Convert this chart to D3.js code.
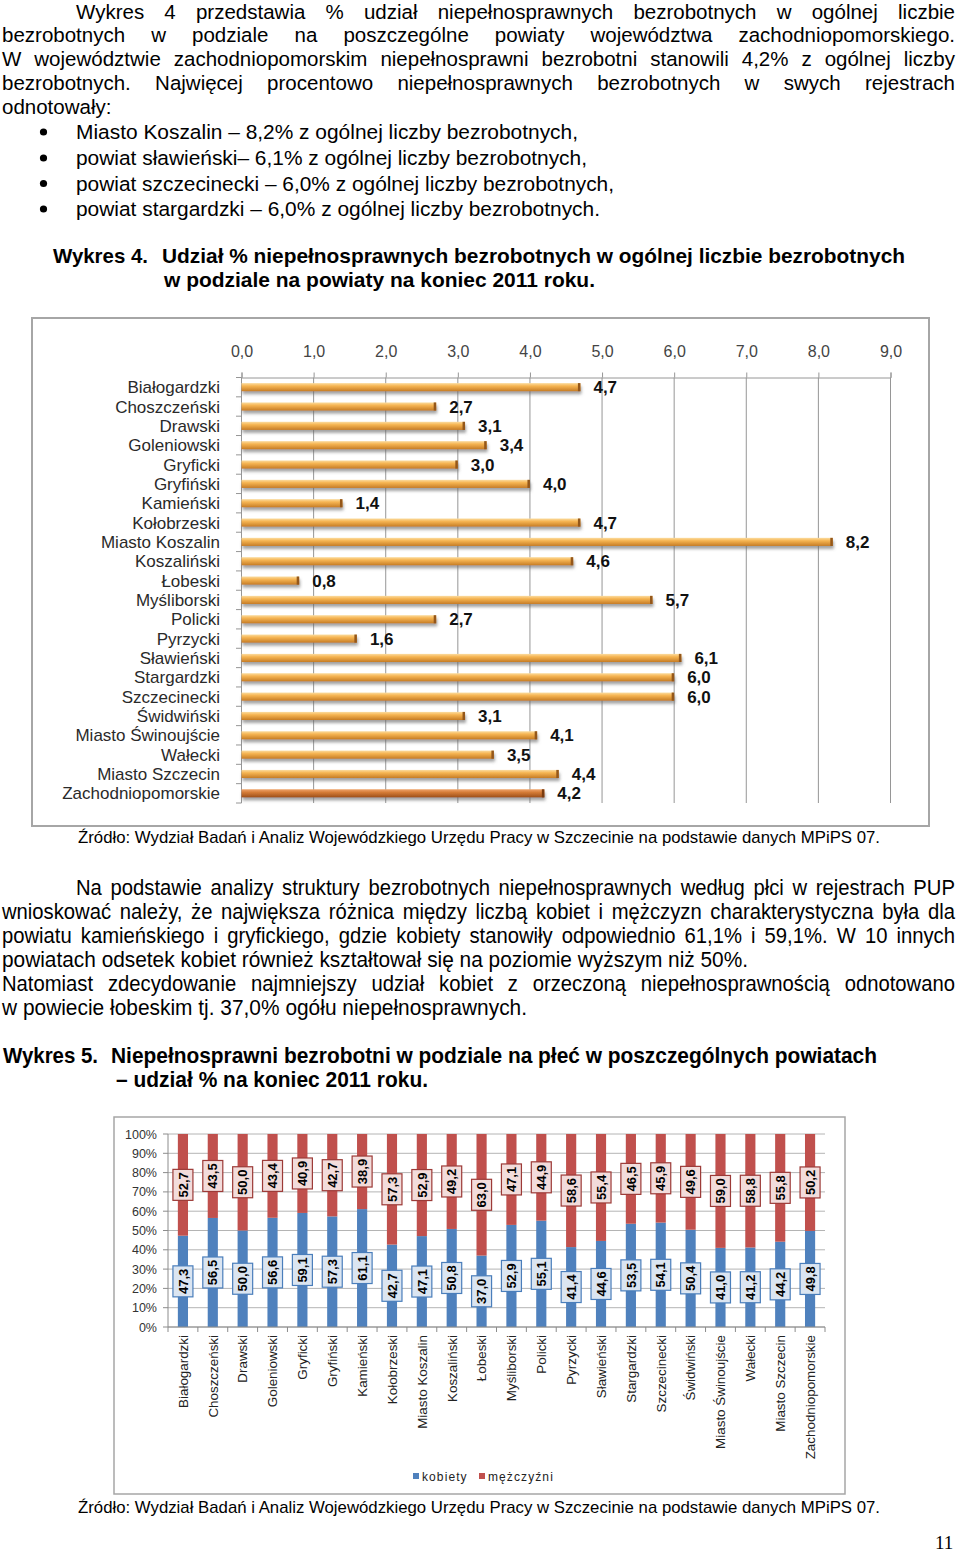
<!DOCTYPE html>
<html><head><meta charset="utf-8">
<script src="https://cdn.jsdelivr.net/npm/d3@7"></script>
<style>body{margin:0;background:#fff} svg{display:block}</style>
</head><body>
<svg id="page" width="960" height="1554"></svg>
<script>
// ---------- DATA ----------
const categories1 = ["Białogardzki","Choszczeński","Drawski","Goleniowski","Gryficki","Gryfiński","Kamieński","Kołobrzeski","Miasto Koszalin","Koszaliński","Łobeski","Myśliborski","Policki","Pyrzycki","Sławieński","Stargardzki","Szczecinecki","Świdwiński","Miasto Świnoujście","Wałecki","Miasto Szczecin","Zachodniopomorskie"];
const values1 = [4.7,2.7,3.1,3.4,3.0,4.0,1.4,4.7,8.2,4.6,0.8,5.7,2.7,1.6,6.1,6.0,6.0,3.1,4.1,3.5,4.4,4.2];
const ticks1 = [0,1,2,3,4,5,6,7,8,9];

const categories2 = ["Białogardzki","Choszczeński","Drawski","Goleniowski","Gryficki","Gryfiński","Kamieński","Kołobrzeski","Miasto Koszalin","Koszaliński","Łobeski","Myśliborski","Policki","Pyrzycki","Sławieński","Stargardzki","Szczecinecki","Świdwiński","Miasto Świnoujście","Wałecki","Miasto Szczecin","Zachodniopomorskie"];
const women = [47.3,56.5,50.0,56.6,59.1,57.3,61.1,42.7,47.1,50.8,37.0,52.9,55.1,41.4,44.6,53.5,54.1,50.4,41.0,41.2,44.2,49.8];
const men = [52.7,43.5,50.0,43.4,40.9,42.7,38.9,57.3,52.9,49.2,63.0,47.1,44.9,58.6,55.4,46.5,45.9,49.6,59.0,58.8,55.8,50.2];
const seriesNames = ["kobiety","mężczyźni"];
const ticks2 = [0,10,20,30,40,50,60,70,80,90,100];

// ---------- SETUP ----------
const FONT = "'Liberation Sans', Arial, Helvetica, sans-serif";
const svg = d3.select("#page");
const fmt = v => v.toFixed(1).replace(".", ",");

function line(str, x0, y, o) {
  o = o || {};
  const size = o.size || 20.5, weight = o.weight || "normal", sx = o.sx || 1;
  const g = svg.append("g").attr("font-family", FONT).attr("font-size", size).attr("font-weight", weight).attr("fill", "#000");
  if (o.x1) {
    const words = str.split(" ");
    const nodes = words.map(w => g.append("text").text(w));
    const widths = nodes.map(n => n.node().getComputedTextLength() * sx);
    const gap = (o.x1 - x0 - d3.sum(widths)) / (words.length - 1);
    let x = x0;
    nodes.forEach((n, i) => { n.attr("transform", `translate(${x},${y}) scale(${sx},1)`); x += widths[i] + gap; });
  } else {
    const t = g.append("text").attr("x", x0).attr("y", y).text(str);
    if (o.w) t.attr("textLength", o.w).attr("lengthAdjust", "spacingAndGlyphs");
  }
}

// ---------- TEXT: top ----------
line("Wykres 4 przedstawia % udział niepełnosprawnych bezrobotnych w ogólnej liczbie", 76, 19, {x1: 955});
line("bezrobotnych w podziale na poszczególne powiaty województwa zachodniopomorskiego.", 2, 41.5, {x1: 955});
line("W województwie zachodniopomorskim niepełnosprawni bezrobotni stanowili 4,2% z ogólnej liczby", 2, 65.5, {x1: 955});
line("bezrobotnych. Najwięcej procentowo niepełnosprawnych bezrobotnych w swych rejestrach", 2, 89.5, {x1: 955});
line("odnotowały:", 2, 113.5);
const bullets = [
  ["Miasto Koszalin – 8,2% z ogólnej liczby bezrobotnych,", 139, 502],
  ["powiat sławieński– 6,1% z ogólnej liczby bezrobotnych,", 165, 511],
  ["powiat szczecinecki – 6,0% z ogólnej liczby bezrobotnych,", 190.5, 538],
  ["powiat stargardzki – 6,0% z ogólnej liczby bezrobotnych.", 216, 524]
];
bullets.forEach(b => {
  svg.append("circle").attr("cx", 43.5).attr("cy", b[1] - 7).attr("r", 3.6).attr("fill", "#000");
  line(b[0], 76, b[1], {w: b[2]});
});
line("Wykres 4.", 53, 263, {weight: "bold", w: 95});
line("Udział % niepełnosprawnych bezrobotnych w ogólnej liczbie bezrobotnych", 162, 263, {weight: "bold", w: 743});
line("w podziale na powiaty na koniec 2011 roku.", 164, 287, {weight: "bold", w: 431});

// ---------- CHART 1 ----------
const defs = svg.append("defs");
const gr = defs.append("linearGradient").attr("id", "barG").attr("x1", 0).attr("y1", 0).attr("x2", 0).attr("y2", 1);
gr.append("stop").attr("offset", "0%").attr("stop-color", "#fbdca0");
gr.append("stop").attr("offset", "35%").attr("stop-color", "#f6b553");
gr.append("stop").attr("offset", "100%").attr("stop-color", "#c67c24");
const gr2 = defs.append("linearGradient").attr("id", "barG2").attr("x1", 0).attr("y1", 0).attr("x2", 0).attr("y2", 1);
gr2.append("stop").attr("offset", "0%").attr("stop-color", "#eea36a");
gr2.append("stop").attr("offset", "40%").attr("stop-color", "#d37a35");
gr2.append("stop").attr("offset", "100%").attr("stop-color", "#9c4f1a");
const sh = defs.append("filter").attr("id", "shadow").attr("x", "-5%").attr("y", "-50%").attr("width", "110%").attr("height", "250%");
sh.append("feDropShadow").attr("dx", 1).attr("dy", 3).attr("stdDeviation", 1.8).attr("flood-color", "#666").attr("flood-opacity", 0.6);

svg.append("rect").attr("x", 32).attr("y", 318).attr("width", 897).attr("height", 508)
  .attr("fill", "#fff").attr("stroke", "#a6a6a6").attr("stroke-width", 2);

const x1 = d3.scaleLinear().domain([0, 9]).range([241.5, 890.5]);
const y1 = d3.scaleBand().domain(categories1).range([377.5, 803]).paddingInner(0.58).paddingOuter(0.29);
const c1 = svg.append("g");

c1.selectAll(".g1").data(ticks1).join("line")
  .attr("x1", d => x1(d)).attr("x2", d => x1(d)).attr("y1", 377.5).attr("y2", 803)
  .attr("stroke", "#969696").attr("stroke-width", 1);
const axTop = c1.append("g").attr("transform", "translate(0,377.5)")
  .call(d3.axisTop(x1).tickValues(ticks1).tickSize(5).tickFormat(d => fmt(d)).tickPadding(16));
axTop.select(".domain").attr("stroke", "#969696");
axTop.selectAll(".tick line").attr("stroke", "#969696");
axTop.selectAll("text").attr("font-family", FONT).attr("font-size", 16).attr("fill", "#444");
c1.append("line").attr("x1", 241.5).attr("x2", 241.5).attr("y1", 377.5).attr("y2", 803).attr("stroke", "#969696");
const step1 = y1.step();
c1.selectAll(".lt").data(d3.range(categories1.length + 1)).join("line")
  .attr("x1", 236).attr("x2", 241.5)
  .attr("y1", i => 377.5 + i * step1).attr("y2", i => 377.5 + i * step1)
  .attr("stroke", "#969696");
c1.selectAll(".cl").data(categories1).join("text")
  .attr("x", 220).attr("y", d => y1(d) + y1.bandwidth() / 2 + 6)
  .attr("text-anchor", "end").attr("font-family", FONT).attr("font-size", 17).attr("fill", "#2a2a2a")
  .text(d => d);
const bars = c1.selectAll(".bar").data(values1.map((v, i) => ({c: categories1[i], v, last: i === values1.length - 1}))).join("g");
bars.append("rect")
  .attr("x", x1(0)).attr("y", d => y1(d.c)).attr("width", d => x1(d.v) - x1(0)).attr("height", y1.bandwidth())
  .attr("fill", d => d.last ? "url(#barG2)" : "url(#barG)").attr("filter", "url(#shadow)");
bars.append("rect")
  .attr("x", d => x1(d.v) - 2.5).attr("y", d => y1(d.c)).attr("width", 2.5).attr("height", y1.bandwidth())
  .attr("fill", d => d.last ? "#7a3c10" : "#94571a");
bars.append("text")
  .attr("x", d => x1(d.v) + 13).attr("y", d => y1(d.c) + y1.bandwidth() / 2 + 6)
  .attr("font-family", FONT).attr("font-size", 17).attr("font-weight", "bold").attr("fill", "#111")
  .text(d => fmt(d.v));

line("Źródło: Wydział Badań i Analiz Wojewódzkiego Urzędu Pracy w Szczecinie na podstawie danych MPiPS 07.", 78, 843, {size: 17, w: 802});

// ---------- TEXT: middle ----------
const SX = 0.9, SZ = 22.5;
line("Na podstawie analizy struktury bezrobotnych niepełnosprawnych według płci w rejestrach PUP", 76, 895, {x1: 955, sx: SX, size: SZ});
line("wnioskować należy, że największa różnica między liczbą kobiet i mężczyzn charakterystyczna była dla", 2, 919, {x1: 955, sx: SX, size: SZ});
line("powiatu kamieńskiego i gryfickiego, gdzie kobiety stanowiły odpowiednio 61,1% i 59,1%. W 10 innych", 2, 943, {x1: 955, sx: SX, size: SZ});
line("powiatach odsetek kobiet również kształtował się na poziomie wyższym niż 50%.", 2, 967, {size: SZ, w: 746});
line("Natomiast zdecydowanie najmniejszy udział kobiet z orzeczoną niepełnosprawnością odnotowano", 2, 991, {x1: 955, sx: SX, size: SZ});
line("w powiecie łobeskim tj. 37,0% ogółu niepełnosprawnych.", 2, 1015, {size: SZ, w: 525});
line("Wykres 5.", 3, 1063, {weight: "bold", size: SZ, w: 95});
line("Niepełnosprawni bezrobotni w podziale na płeć w poszczególnych powiatach", 111, 1063, {weight: "bold", size: SZ, w: 766});
line("– udział % na koniec 2011 roku.", 116, 1087, {weight: "bold", size: SZ, w: 312});

// ---------- CHART 2 ----------
svg.append("rect").attr("x", 114).attr("y", 1117).attr("width", 731).attr("height", 377)
  .attr("fill", "#fff").attr("stroke", "#a6a6a6").attr("stroke-width", 1.5);

const x2 = d3.scaleBand().domain(categories2).range([168, 825]).paddingInner(0.66).paddingOuter(0.33);
const y2 = d3.scaleLinear().domain([0, 100]).range([1327, 1134]);
const c2 = svg.append("g");
const colors = {"kobiety": "#4f81bd", "mężczyźni": "#c0504d"};
const boxFill = {"kobiety": "#dbe5f1", "mężczyźni": "#f2dcdb"};
const boxStroke = {"kobiety": "#4a7ebb", "mężczyźni": "#9c3a37"};

c2.selectAll(".g2").data(ticks2).join("line")
  .attr("x1", 168).attr("x2", 825).attr("y1", d => y2(d)).attr("y2", d => y2(d))
  .attr("stroke", "#b4b4b4").attr("stroke-width", 1);
c2.append("line").attr("x1", 168).attr("x2", 168).attr("y1", 1134).attr("y2", 1327).attr("stroke", "#8c8c8c");
c2.selectAll(".yt").data(ticks2).join("line")
  .attr("x1", 163).attr("x2", 168).attr("y1", d => y2(d)).attr("y2", d => y2(d)).attr("stroke", "#8c8c8c");
c2.selectAll(".yl").data(ticks2).join("text")
  .attr("x", 157).attr("y", d => y2(d) + 4.5).attr("text-anchor", "end")
  .attr("font-family", FONT).attr("font-size", 12.5).attr("fill", "#333")
  .text(d => d + "%");

const rows = categories2.map((c, i) => ({c, "kobiety": women[i], "mężczyźni": men[i]}));
const stacked = d3.stack().keys(seriesNames)(rows);
stacked.forEach(s => {
  const key = s.key;
  c2.selectAll(".b-" + seriesNames.indexOf(key)).data(s).join("rect")
    .attr("x", d => x2(d.data.c)).attr("width", x2.bandwidth())
    .attr("y", d => y2(d[1])).attr("height", d => y2(d[0]) - y2(d[1]))
    .attr("fill", colors[key]);
});
c2.append("line").attr("x1", 168).attr("x2", 825).attr("y1", 1327).attr("y2", 1327).attr("stroke", "#8c8c8c");
const step2 = x2.step();
c2.selectAll(".xt").data(d3.range(categories2.length + 1)).join("line")
  .attr("x1", i => 168 + i * step2).attr("x2", i => 168 + i * step2)
  .attr("y1", 1327).attr("y2", 1332).attr("stroke", "#8c8c8c");
stacked.forEach(s => {
  const key = s.key;
  const lg = c2.selectAll(".lab-" + seriesNames.indexOf(key)).data(s).join("g")
    .attr("transform", d => `translate(${x2(d.data.c) + x2.bandwidth() / 2},${y2((d[0] + d[1]) / 2)})`);
  lg.append("rect").attr("x", -10).attr("y", -15.5).attr("width", 20).attr("height", 31)
    .attr("fill", boxFill[key]).attr("stroke", boxStroke[key]).attr("stroke-width", 1.2);
  lg.append("text").attr("transform", "rotate(-90)").attr("text-anchor", "middle").attr("dy", "0.36em")
    .attr("font-family", FONT).attr("font-size", 13).attr("font-weight", "bold").attr("fill", "#000")
    .text(d => fmt(d.data[key]));
});
c2.selectAll(".xl").data(categories2).join("text")
  .attr("transform", d => `translate(${x2(d) + x2.bandwidth() / 2},1335) rotate(-90)`)
  .attr("text-anchor", "end").attr("dy", "0.36em")
  .attr("font-family", FONT).attr("font-size", 13.4).attr("fill", "#222")
  .text(d => d);
const legX = [413, 479];
seriesNames.forEach((k, i) => {
  c2.append("rect").attr("x", legX[i]).attr("y", 1473).attr("width", 6).attr("height", 6).attr("fill", colors[k]);
  c2.append("text").attr("x", legX[i] + 9).attr("y", 1480.5)
    .attr("font-family", FONT).attr("font-size", 12).attr("letter-spacing", 1.1).attr("fill", "#222").text(k);
});

line("Źródło: Wydział Badań i Analiz Wojewódzkiego Urzędu Pracy w Szczecinie na podstawie danych MPiPS 07.", 78, 1513, {size: 17, w: 802});
svg.append("text").attr("x", 935).attr("y", 1549).attr("font-family", "'Liberation Serif', 'Times New Roman', serif")
  .attr("font-size", 19).attr("fill", "#000").text("11");
</script>
</body></html>
